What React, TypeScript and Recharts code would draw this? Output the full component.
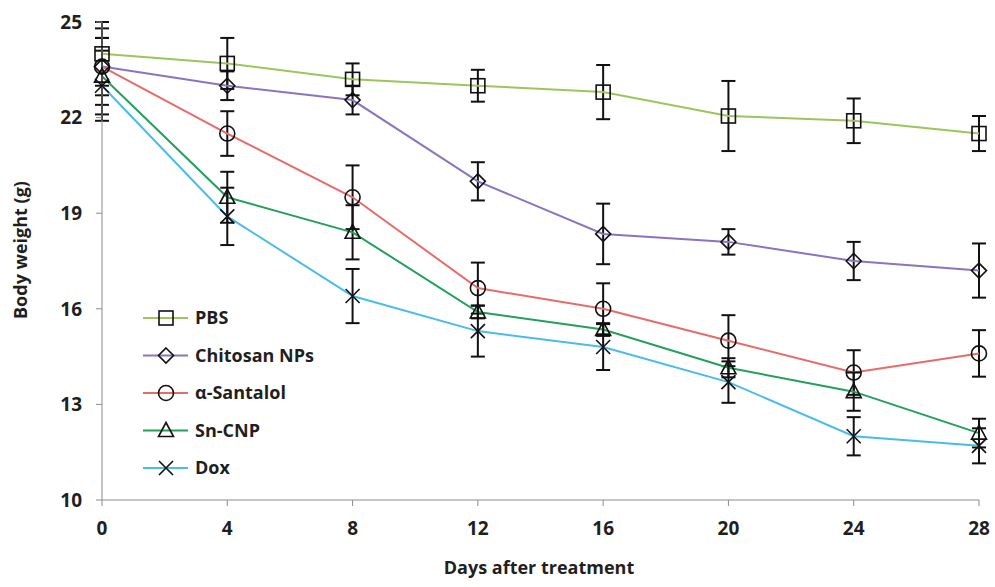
import React from "react";
import { LineChart, Line, XAxis, YAxis, ErrorBar, Legend, Label } from "recharts";

const days = [0, 4, 8, 12, 16, 20, 24, 28];
const yTicks = [10, 13, 16, 19, 22, 25];

const pbs = [24.0, 23.7, 23.2, 23.0, 22.8, 22.05, 21.9, 21.5];
const pbsErr = [1.0, 0.8, 0.5, 0.5, 0.85, 1.1, 0.7, 0.55];
const chitosan = [23.6, 23.0, 22.55, 20.0, 18.35, 18.1, 17.5, 17.2];
const chitosanErr = [1.2, 0.45, 0.45, 0.6, 0.95, 0.4, 0.6, 0.85];
const santalol = [23.6, 21.5, 19.5, 16.65, 16.0, 15.0, 14.0, 14.6];
const santalolErr = [0.9, 0.7, 1.0, 0.8, 0.8, 0.8, 0.7, 0.73];
const sncnp = [23.3, 19.5, 18.4, 15.9, 15.35, 14.15, 13.4, 12.1];
const sncnpErr = [1.2, 0.8, 0.85, 0.2, 0.2, 0.3, 0.6, 0.45];
const dox = [23.0, 18.9, 16.4, 15.3, 14.8, 13.7, 12.0, 11.7];
const doxErr = [1.1, 0.9, 0.85, 0.8, 0.72, 0.65, 0.6, 0.55];

const series = [
    { key: "pbs", name: "PBS", color: "#9dc55a", shape: "square" },
    { key: "chitosan", name: "Chitosan NPs", color: "#8a74c0", shape: "diamond" },
    { key: "santalol", name: "\u03b1-Santalol", color: "#e86b68", shape: "circle" },
    { key: "sncnp", name: "Sn-CNP", color: "#22a05e", shape: "triangle" },
    { key: "dox", name: "Dox", color: "#48bde9", shape: "x" },
];

const data = days.map((d, i) => ({
    day: d,
    pbs: pbs[i], pbsErr: pbsErr[i],
    chitosan: chitosan[i], chitosanErr: chitosanErr[i],
    santalol: santalol[i], santalolErr: santalolErr[i],
    sncnp: sncnp[i], sncnpErr: sncnpErr[i],
    dox: dox[i], doxErr: doxErr[i],
}));

const FONT = "'Open Sans', Lato, sans-serif";
const INK = "#1f1f1f";

function Marker({ shape, cx, cy }: { shape: string; cx: number; cy: number }) {
    const s = { fill: "none", stroke: "#111", strokeWidth: 1.6 };
    if (shape === "square") return <rect x={cx - 7} y={cy - 7} width={14} height={14} {...s} />;
    if (shape === "diamond")
        return <path d={`M${cx},${cy - 7.5} L${cx + 7.5},${cy} L${cx},${cy + 7.5} L${cx - 7.5},${cy} Z`} {...s} />;
    if (shape === "circle") return <circle cx={cx} cy={cy} r={7.5} {...s} />;
    if (shape === "triangle")
        return <path d={`M${cx},${cy - 8} L${cx + 7.5},${cy + 6} L${cx - 7.5},${cy + 6} Z`} {...s} />;
    return <path d={`M${cx - 7},${cy - 7} L${cx + 7},${cy + 7} M${cx + 7},${cy - 7} L${cx - 7},${cy + 7}`} {...s} />;
}

function LegendBox() {
    return (
        <svg width={230} height={190} style={{ overflow: "visible" }}>
            {series.map((s, i) => {
                const y = 18 + i * 37.5;
                return (
                    <g key={s.key}>
                        <line x1={0} x2={45} y1={y} y2={y} stroke={s.color} strokeWidth={2} />
                        <Marker shape={s.shape} cx={23} cy={y} />
                        <text x={52} y={y} dy="0.36em" fontFamily={FONT} fontWeight={700} fontSize={18} fill={INK}>
                            {s.name}
                        </text>
                    </g>
                );
            })}
        </svg>
    );
}

export default function App() {
    const tick = { fill: INK, fontFamily: FONT, fontWeight: 700, fontSize: 19 };
    return (
        <div style={{ width: 995, height: 587, background: "#fff" }}>
            <style>{"body{margin:0}"}</style>
            <LineChart width={995} height={587} data={data} margin={{ top: 22, right: 16, bottom: 0, left: 0 }}>
                <XAxis
                    dataKey="day"
                    type="number"
                    domain={[0, 28]}
                    ticks={days}
                    height={87}
                    stroke="#8c8c8c"
                    tickSize={6}
                    tickMargin={16}
                    tick={tick}
                >
                    <Label
                        content={() => (
                            <text x={539} y={574} textAnchor="middle" fontFamily={FONT} fontWeight={700} fontSize={18} fill={INK}>
                                Days after treatment
                            </text>
                        )}
                    />
                </XAxis>
                <YAxis
                    type="number"
                    domain={[10, 25]}
                    ticks={yTicks}
                    width={102}
                    stroke="#8c8c8c"
                    tickSize={6}
                    tickMargin={14}
                    tick={tick}
                >
                    <Label
                        content={() => (
                            <text
                                x={27}
                                y={250}
                                transform="rotate(-90 27 250)"
                                textAnchor="middle"
                                fontFamily={FONT}
                                fontWeight={700}
                                fontSize={18}
                                fill={INK}
                            >
                                Body weight (g)
                            </text>
                        )}
                    />
                </YAxis>
                <Legend
                    layout="vertical"
                    align="center"
                    verticalAlign="middle"
                    wrapperStyle={{ left: 143, top: 300, width: 230 }}
                    content={() => <LegendBox />}
                />
                {series.map((s) => (
                    <Line
                        key={s.key}
                        dataKey={s.key}
                        name={s.name}
                        type="linear"
                        stroke={s.color}
                        strokeWidth={2}
                        isAnimationActive={false}
                        dot={(p: any) => <Marker key={`${s.key}-${p.index}`} shape={s.shape} cx={p.cx} cy={p.cy} />}
                        activeDot={false}
                    >
                        <ErrorBar dataKey={`${s.key}Err`} width={7} stroke="#111" strokeWidth={2} isAnimationActive={false} />
                    </Line>
                ))}
            </LineChart>
        </div>
    );
}
